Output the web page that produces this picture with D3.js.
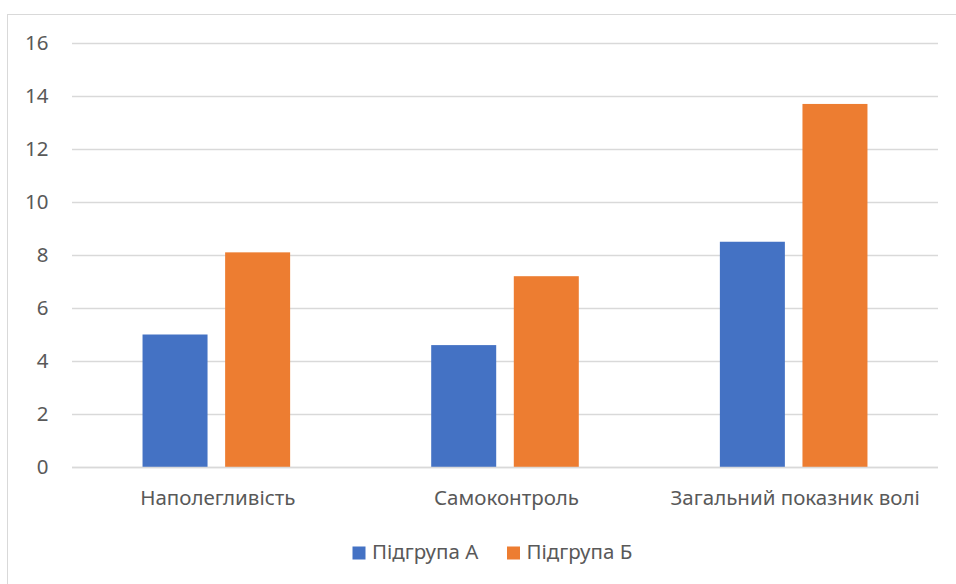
<!DOCTYPE html>
<html>
<head>
<meta charset="utf-8">
<script src="https://cdn.jsdelivr.net/npm/d3@7"></script>
<style>
  html, body { margin: 0; padding: 0; background: #fff; }
  svg { display: block; font-family: "Noto Sans", "Open Sans", sans-serif; }
</style>
</head>
<body>
<svg id="chart" width="956" height="584"></svg>
<script>
// Vertical axis ticks
const yTicks = [0, 2, 4, 6, 8, 10, 12, 14, 16];
// Categories along the x axis
const categories = ["Наполегливість", "Самоконтроль", "Загальний показник волі"];
// Series names and values
const seriesNames = ["Підгрупа А", "Підгрупа Б"];
const groupA = [5.0, 4.6, 8.5];
const groupB = [8.1, 7.2, 13.7];
const seriesColors = ["#4472C4", "#ED7D31"];

const rows = categories.map((c, i) => ({ category: c, values: [groupA[i], groupB[i]] }));

const svg = d3.select("#chart");
const margin = { left: 72, right: 18, top: 43, bottom: 117 };
const W = 956, H = 584;
const textColor = "#595959";
const fontSize = "20.5px";

// Chart frame
svg.append("rect")
  .attr("x", 7.5).attr("y", 14.5)
  .attr("width", 970).attr("height", 600)
  .attr("fill", "none").attr("stroke", "#d9d9d9").attr("stroke-width", 1);

const y = d3.scaleLinear().domain([0, 16]).range([H - margin.bottom, margin.top]);
const x0 = d3.scaleBand().domain(categories).range([margin.left, W - margin.right]).padding(0);
const x1 = d3.scaleBand().domain(seriesNames).range([0, x0.bandwidth()])
  .paddingInner(0.213).paddingOuter(0.854);

// Gridlines
svg.append("g")
  .selectAll("line").data(yTicks).join("line")
  .attr("x1", margin.left).attr("x2", W - margin.right)
  .attr("y1", d => Math.round(y(d)) + 0.5).attr("y2", d => Math.round(y(d)) + 0.5)
  .attr("stroke", "#d9d9d9").attr("stroke-width", 1.3);

// Y axis labels
const yAxis = d3.axisLeft(y).tickValues(yTicks).tickSize(0).tickPadding(0);
const gy = svg.append("g").attr("transform", `translate(48.5,0)`).call(yAxis);
gy.select(".domain").remove();
gy.selectAll("text")
  .attr("fill", textColor).style("font-size", fontSize).style("font-family", "Noto Sans");

// Bars
const groups = svg.append("g").selectAll("g").data(rows).join("g")
  .attr("transform", d => `translate(${x0(d.category)},0)`);
groups.selectAll("rect")
  .data(d => d.values.map((v, i) => ({ name: seriesNames[i], value: v, i })))
  .join("rect")
  .attr("x", d => x1(d.name))
  .attr("width", x1.bandwidth())
  .attr("y", d => y(d.value))
  .attr("height", d => y(0) - y(d.value))
  .attr("fill", d => seriesColors[d.i]);

// Baseline
svg.append("line")
  .attr("x1", margin.left).attr("x2", W - margin.right)
  .attr("y1", Math.round(y(0)) + 0.5).attr("y2", Math.round(y(0)) + 0.5)
  .attr("stroke", "#d9d9d9").attr("stroke-width", 1.3);

// X axis labels
const xAxis = d3.axisBottom(x0).tickSize(0).tickPadding(0);
const gx = svg.append("g").attr("transform", `translate(1.5,${y(0)})`).call(xAxis);
gx.select(".domain").remove();
gx.selectAll("text")
  .attr("y", 38).attr("dy", null)
  .attr("fill", textColor).style("font-size", fontSize).style("font-family", "Noto Sans");

// Legend
const legendX = [352.5, 507];
const legend = svg.append("g");
const legendItems = legend.selectAll("g").data(seriesNames).join("g")
  .attr("transform", (d, i) => `translate(${legendX[i]},0)`);
legendItems.append("rect")
  .attr("x", 0).attr("y", 546.5).attr("width", 13).attr("height", 13)
  .attr("fill", (d, i) => seriesColors[i]);
legendItems.append("text")
  .attr("x", 19.5).attr("y", 559)
  .attr("fill", textColor).style("font-size", fontSize)
  .text(d => d);
</script>
</body>
</html>
